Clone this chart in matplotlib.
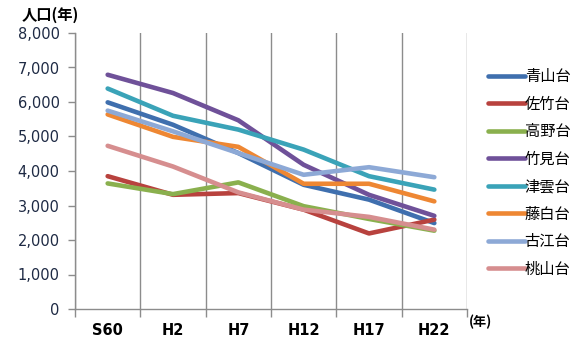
import matplotlib
matplotlib.use("Agg")
import matplotlib.pyplot as plt
import numpy as np

plt.rcParams['font.family'] = ['Noto Sans CJK JP', 'DejaVu Sans']

years = ["S60", "H2", "H7", "H12", "H17", "H22"]
names = ["青山台", "佐竹台", "高野台", "竹見台", "津雲台", "藤白台", "古江台", "桃山台"]

aoyamadai = [5990, 5340, 4520, 3600, 3170, 2490]
satakedai = [3850, 3310, 3360, 2880, 2190, 2590]
takanodai = [3640, 3330, 3670, 2980, 2610, 2270]
takemidai = [6790, 6260, 5470, 4180, 3310, 2700]
tsukumodai = [6390, 5600, 5200, 4620, 3850, 3460]
fujishirodai = [5640, 4990, 4700, 3630, 3630, 3120]
furuedai = [5750, 5150, 4520, 3890, 4110, 3820]
momoyamadai = [4730, 4130, 3380, 2880, 2670, 2300]

series = [aoyamadai, satakedai, takanodai, takemidai,
          tsukumodai, fujishirodai, furuedai, momoyamadai]
colors = ["#3F6FAE", "#B8423E", "#8AB04E", "#6F5199",
          "#3AA3B8", "#EE8733", "#8DA9D6", "#D68E8F"]

fig = plt.figure(figsize=(5.85, 3.42), dpi=100)
ax = fig.add_axes([75/585, 1-309/342, (467-75)/585, (309-33)/342])

x = np.arange(len(years)) + 0.5
for vals, name, c in zip(series, names, colors):
    ax.plot(x, vals, color=c, lw=3.3, label=name,
            solid_joinstyle='round', solid_capstyle='round')

ax.set_xlim(0, len(years))
ax.set_ylim(0, 8000)

grey = "#8C8C8C"
ax.set_xticks(np.arange(0, len(years) + 1))
ax.set_xticklabels([])
ax.set_xticks(x, minor=True)
ax.set_xticklabels(years, minor=True, fontweight='bold', fontsize=10.5,
                   family=['DejaVu Sans'])
ax.tick_params(axis='x', which='major', length=6, color=grey, width=1)
ax.tick_params(axis='x', which='minor', length=0, pad=10)
ax.grid(axis='x', which='major', color=grey, lw=1)

ax.set_yticks(np.arange(0, 8001, 1000))
ax.set_yticklabels([f"{v:,}" for v in range(0, 8001, 1000)],
                   fontsize=10.5, color="#1E2A44", family=['DejaVu Sans'])
ax.tick_params(axis='y', length=5, color=grey, width=1, pad=6)

for s in ['top', 'right']:
    ax.spines[s].set_visible(False)
for s in ['left', 'bottom']:
    ax.spines[s].set_color(grey)
    ax.spines[s].set_linewidth(1)

fig.text(22/585, 1-15/342, "人口(年)", fontsize=11, fontweight='bold',
         va='center', ha='left')
fig.text(469/585, 1-322/342, "(年)", fontsize=9.5, fontweight='bold',
         va='center', ha='left')

leg = ax.legend(loc='upper left', bbox_to_anchor=(488/585, 1-68/342),
                bbox_transform=fig.transFigure, frameon=False,
                fontsize=11, handlelength=2.4, handletextpad=0.0,
                labelspacing=0.69, borderpad=0, borderaxespad=0)

fig.savefig("out.png", dpi=100)
